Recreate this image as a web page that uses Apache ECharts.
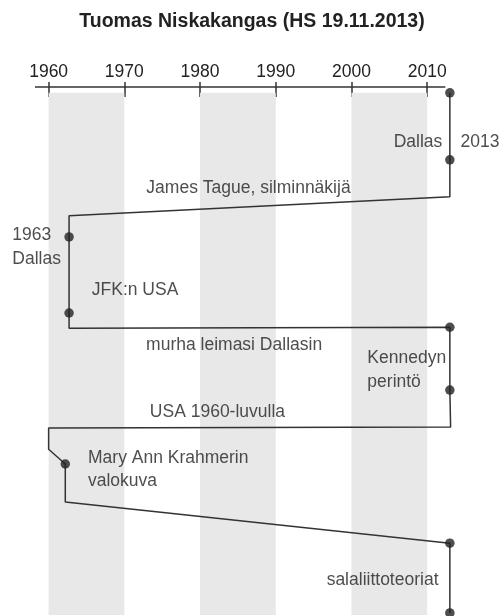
<!DOCTYPE html>
<html>
<head>
<meta charset="utf-8">
<script src="https://cdn.jsdelivr.net/npm/echarts@6/dist/echarts.min.js"></script>
<style>html,body{margin:0;padding:0;background:#fff}#main{width:504px;height:616px}</style>
</head>
<body>
<div id="main"></div>
<script>
// vuosiakseli ja harmaat vyöhykkeet
var yearTicks = [1960, 1970, 1980, 1990, 2000, 2010];
var axisFrom = 1958.2, axisTo = 2012.4;
var bandFrom = [1960, 1980, 2000];
var bandTo = [1970, 1990, 2010];

// kulkureitti: vuosi + paikka alaspäin (0..100)
var pathYear = [2013, 2013, 2013, 1962.7, 1962.7, 1962.7, 1962.7, 2013, 2013, 2013.1, 1960, 1960, 1962.2, 1962.2, 2013, 2013];
var pathPos = [1.1, 13.8, 20.8, 24.4, 28.4, 42.8, 45.7, 45.5, 57.4, 64.4, 64.6, 68.6, 71.4, 78.6, 86.4, 99.6];

// pisteet reitillä
var dotYear = [2013, 2013, 1962.7, 1962.7, 2013, 2013, 1962.2, 2013, 2013];
var dotPos = [1.1, 13.8, 28.4, 42.8, 45.5, 57.4, 71.4, 86.4, 99.6];

// tekstit
var noteText = ['Dallas', '2013', 'James Tague, silminnäkijä', '1963\nDallas', 'JFK:n USA',
  'murha leimasi Dallasin', 'Kennedyn\nperintö', 'USA 1960-luvulla', 'Mary Ann Krahmerin\nvalokuva', 'salaliittoteoriat'];
var noteYear = [2012.0, 2014.4, 1986.4, 1955.2, 1965.7, 1984.5, 2002.1, 1982.3, 1965.2, 2011.5];
var notePos = [10.4, 10.4, 19.1, 30.3, 38.4, 48.9, 53.6, 61.5, 72.5, 93.4];
var noteAlign = ['right', 'left', 'center', 'left', 'left', 'center', 'left', 'center', 'left', 'right'];

var font = 'Liberation Sans, Arial, sans-serif';
var chart = echarts.init(document.getElementById('main'));

var pathData = [];
for (var i = 0; i < pathYear.length; i++) pathData.push([pathYear[i], pathPos[i]]);
var dotData = [];
for (var i = 0; i < dotYear.length; i++) dotData.push([dotYear[i], dotPos[i]]);
var noteData = [];
for (var i = 0; i < noteText.length; i++) {
  noteData.push({
    value: [noteYear[i], notePos[i]],
    name: noteText[i],
    label: { align: noteAlign[i] }
  });
}
var bands = [];
for (var i = 0; i < bandFrom.length; i++) {
  bands.push([{ xAxis: bandFrom[i], yAxis: 1.1 }, { xAxis: bandTo[i], yAxis: 100 }]);
}

var tickStyle = { color: '#333', width: 1.5 };

var option = {
  animation: false,
  backgroundColor: '#fff',
  title: {
    text: 'Tuomas Niskakangas (HS 19.11.2013)',
    left: 'center',
    top: 7,
    textStyle: { fontFamily: font, fontSize: 19.5, fontWeight: 'bold', color: '#222' }
  },
  grid: { left: 35, right: 39, top: 87, bottom: 1 },
  xAxis: [{
    type: 'value',
    position: 'top',
    min: 1958.2,
    max: 2015,
    axisLine: { show: false },
    axisTick: { show: true, length: 5, customValues: yearTicks, lineStyle: tickStyle },
    axisLabel: {
      margin: 6, customValues: yearTicks, fontFamily: font, fontSize: 17.5, color: '#222',
      formatter: function (v) { return String(v); }
    },
    splitLine: { show: false }
  }, {
    type: 'value',
    position: 'top',
    min: 1958.2,
    max: 2015,
    axisLine: { show: false },
    axisTick: { show: true, inside: true, length: 10, customValues: yearTicks, lineStyle: tickStyle },
    axisLabel: { show: false },
    splitLine: { show: false }
  }],
  yAxis: { type: 'value', inverse: true, min: 0, max: 100, show: false },
  series: [{
    type: 'line',
    data: pathData,
    showSymbol: false,
    clip: false,
    lineStyle: { color: '#333', width: 1.5 },
    markArea: {
      silent: true,
      itemStyle: { color: '#e8e8e8' },
      data: bands
    },
    markLine: {
      silent: true,
      symbol: 'none',
      label: { show: false },
      lineStyle: { color: '#333', width: 1.5, type: 'solid' },
      data: [[{ coord: [axisFrom, 0] }, { coord: [axisTo, 0] }]]
    },
    z: 2
  }, {
    type: 'scatter',
    data: dotData,
    symbolSize: 9.5,
    clip: false,
    itemStyle: { color: '#222' },
    z: 3
  }, {
    type: 'scatter',
    data: noteData,
    symbolSize: 0,
    clip: false,
    label: {
      show: true,
      position: 'inside',
      verticalAlign: 'middle',
      formatter: function (p) { return p.name; },
      fontFamily: font,
      fontSize: 17.5,
      lineHeight: 23.5,
      color: '#222'
    },
    z: 4
  }]
};
chart.setOption(option);
</script>
</body>
</html>
